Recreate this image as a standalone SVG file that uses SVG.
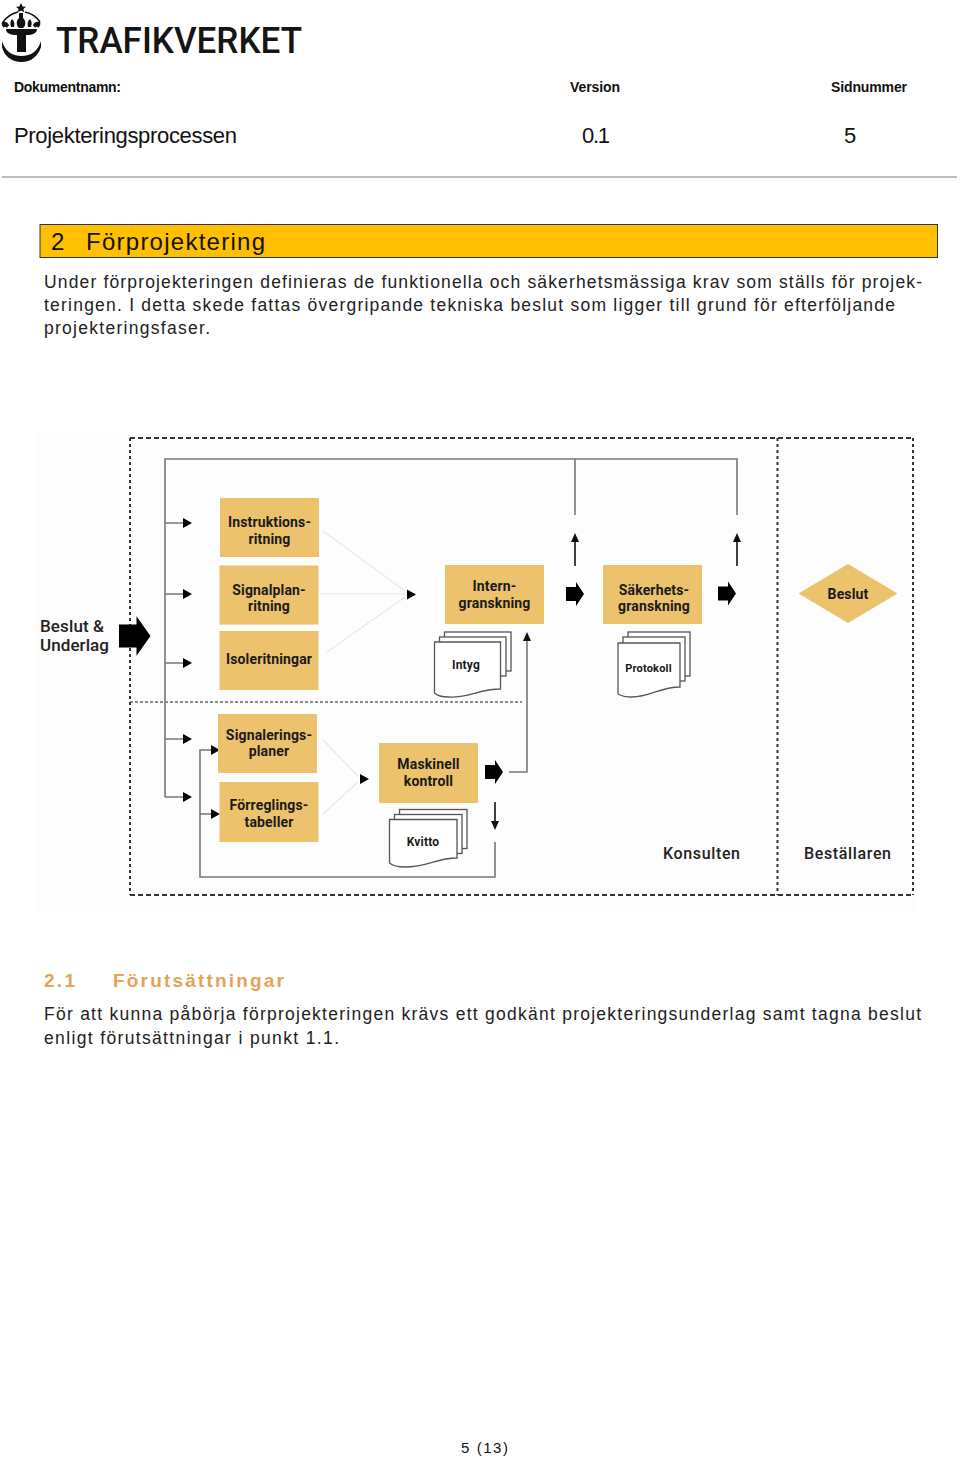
<svg xmlns="http://www.w3.org/2000/svg" width="960" height="1460" viewBox="0 0 960 1460">
<style>
.s{font-family:"Liberation Sans",Arial,sans-serif;fill:#111}
.b{font-size:17.500px;fill:#222}
.h{font-size:14px;font-weight:bold}
.v{font-size:22px}
.n{font-family:Roboto,"Liberation Sans",sans-serif;font-weight:700;font-size:14px;letter-spacing:.15px;fill:#1a1a1a;text-anchor:middle}
.m{font-family:Roboto,"Liberation Sans",sans-serif;font-weight:700;font-size:12px;letter-spacing:.2px;fill:#1a1a1a;text-anchor:middle}
.l{font-family:Roboto,"Liberation Sans",sans-serif;font-weight:500;font-size:17px;fill:#222}
.box{fill:#ecc26c}
.doc{fill:#fff;stroke:#555;stroke-width:1.3}
.ln{fill:none;stroke:#777;stroke-width:1.6}
.lt{fill:none;stroke:#e8e8e8;stroke-width:1.2}
.dk{fill:none;stroke:#111;stroke-width:1.6}
.ds{fill:none;stroke:#333;stroke-width:2;stroke-dasharray:5 3}
.dv{fill:none;stroke:#333;stroke-width:2;stroke-dasharray:3 3}
.dt{fill:none;stroke:#666;stroke-width:1.6;stroke-dasharray:3 2}
.fa{fill:#111}
</style>
<defs>
<path id="big" d="M0-7H10V-12L18 0 10 12V7H0Z"/>
<path id="ah" d="M0-5 9 0 0 5Z"/>
<path id="dc" d="M0 0H66V47C44 47 36 56 14 55 8 55 3 54 0 51Z"/>
</defs>
<rect width="960" height="1460" fill="#fff"/>
<g id="logo">
<path d="M21 3l1.600 3.400 3.400.3-2.600 2.200.8 3.400-3.200-1.800-3.200 1.800.8-3.400-2.600-2.200 3.400-.3z" fill="#111"/>
<path d="M19 13h4v5c3 2 3 8 0 10h-4c-3-2-3-8 0-10z" fill="#111"/>
<path d="M3 22C8 15 14 13 18 12M25 12C30 13 36 16 40 22" fill="none" stroke="#111" stroke-width="1.600"/>
<path d="M2 22c4-1 7 1 7 4-1 0-1 0-2 2-2-2-3-1-3 0 -2-2-3-4-2-6zM12 19c2 2 3 4 2 8h-3c-1-3-1-6 1-8zM30 19c2 2 2 5 1 8h-3c-1-4 0-6 2-8zM40 22c1 2 0 4-2 6 0-1-1-2-3 0-1-2-1-2-2-2 0-3 3-5 7-4z" fill="#111"/>
<path d="M6 29H37C37 33 33 35 26 35V52H17V35C10 35 6 33 6 29Z" fill="#111"/>
<path d="M2 41C5 51 12 56 21.500 56 31 56 38 51 41 41V47C38 56 31 62 21.500 62 12 62 4 56 2 47Z" fill="#111"/>
<text x="56" y="53" font-family="Roboto,'Liberation Sans',sans-serif" font-weight="500" font-size="36.500" fill="#151515" textLength="246" lengthAdjust="spacingAndGlyphs">TRAFIKVERKET</text>
</g>
<g id="header">
<text class="s h" x="14" y="92" textLength="107">Dokumentnamn:</text>
<text class="s h" x="570" y="92" textLength="50">Version</text>
<text class="s h" x="831" y="92" textLength="76">Sidnummer</text>
<text class="s v" x="14" y="143" textLength="223">Projekteringsprocessen</text>
<text class="s v" x="582" y="143" textLength="28">0.1</text>
<text class="s v" x="844" y="143">5</text>
<rect x="2" y="176" width="955" height="2" fill="#bdbdbd"/>
</g>
<g id="section-2">
<rect x="40" y="224.500" width="897.500" height="33" fill="#ffc000" stroke="#333" stroke-width="1"/>
<text class="s" font-size="24" x="51" y="250">2</text>
<text class="s" font-size="24" x="86" y="250" textLength="179" lengthAdjust="spacing">Förprojektering</text>
<text class="s b" x="44" y="288" textLength="878" lengthAdjust="spacing">Under förprojekteringen definieras de funktionella och säkerhetsmässiga krav som ställs för projek-</text>
<text class="s b" x="44" y="311" textLength="851" lengthAdjust="spacing">teringen. I detta skede fattas övergripande tekniska beslut som ligger till grund för efterföljande</text>
<text class="s b" x="44" y="334" textLength="166" lengthAdjust="spacing">projekteringsfaser.</text>
</g>
<rect x="36" y="434" width="880" height="478" fill="#fdfdfd"/>
<g id="connectors">
<path class="ds" d="M130 438H913M130 895H913"/>
<path class="dv" d="M130 438V895M913 438V895M777.500 438V895"/>
<path class="dt" d="M130 702H522"/>
<path class="ln" d="M165 797V459H737V515M575 459V515M165 523H183M165 594H183M165 663H183M165 739H183M165 797H183"/>
<use href="#ah" x="183" y="523"/><use href="#ah" x="183" y="594"/><use href="#ah" x="183" y="663"/><use href="#ah" x="183" y="739"/><use href="#ah" x="183" y="797"/>
<path class="ln" d="M495 842V877H200V750H212M200 814H212M509 772H527V640"/>
<use href="#ah" x="211" y="750"/><use href="#ah" x="211" y="814"/>
<path class="lt" d="M323 531L405 591M320 594H405M327 652L405 597M323 740L358 776M323 814L358 782"/>
<use href="#ah" x="407" y="594.500"/><use href="#ah" x="360" y="779"/>
<use href="#big" x="119" y="636" transform="translate(119 636) scale(1.750 1.650) translate(-119 -636)"/>
<use href="#big" x="566" y="594"/><use href="#big" x="718" y="593.500"/><use href="#big" x="485" y="772"/>
<path class="dk" d="M575 566V540M737 566V540M495 802V824"/>
<path class="fa" d="M575 533l4 9h-8zM737 533l4 9h-8zM495 830l-4-9h8zM527 632l4 9h-8z"/>
</g>
<g id="input-label">
<text class="l" x="40" y="632" textLength="64">Beslut &amp;</text>
<text class="l" x="40" y="651" textLength="69">Underlag</text>
</g>
<g id="instruktionsritning"><rect class="box" x="220" y="498" width="99" height="59"/><text class="n" x="269.500" y="527">Instruktions-</text><text class="n" x="269.500" y="544">ritning</text></g>
<g id="signalplanritning"><rect class="box" x="219.500" y="565.500" width="99" height="59"/><text class="n" x="269" y="595">Signalplan-</text><text class="n" x="269" y="611">ritning</text></g>
<g id="isoleritningar"><rect class="box" x="219.500" y="631" width="99" height="59"/><text class="n" x="269" y="664">Isoleritningar</text></g>
<g id="interngranskning"><rect class="box" x="445" y="565" width="99" height="59"/><text class="n" x="494.500" y="591">Intern-</text><text class="n" x="494.500" y="608">granskning</text></g>
<g id="sakerhetsgranskning"><rect class="box" x="603" y="565" width="99" height="59"/><text class="n" x="654" y="595">Säkerhets-</text><text class="n" x="654" y="611">granskning</text></g>
<g id="beslut"><path class="box" d="M848 564L897.500 593.500 848 623 798.500 593.500Z"/><text class="n" x="848" y="599">Beslut</text></g>
<g id="signaleringsplaner"><rect class="box" x="218" y="714" width="99" height="59"/><text class="n" x="269" y="740">Signalerings-</text><text class="n" x="269" y="756">planer</text></g>
<g id="forreglingstabeller"><rect class="box" x="219.500" y="782" width="99" height="60"/><text class="n" x="269" y="810">Förreglings-</text><text class="n" x="269" y="827">tabeller</text></g>
<g id="maskinell-kontroll"><rect class="box" x="379" y="743" width="99" height="60"/><text class="n" x="428.500" y="769">Maskinell</text><text class="n" x="428.500" y="786">kontroll</text></g>
<g id="intyg">
<rect class="doc" x="444.500" y="632" width="66.500" height="39"/><rect class="doc" x="439.500" y="637" width="66.500" height="39"/>
<use href="#dc" x="434.500" y="642" class="doc"/><text class="m" x="466" y="669">Intyg</text></g>
<g id="protokoll">
<rect class="doc" x="628" y="632" width="62" height="44"/><rect class="doc" x="623" y="637" width="62" height="44"/>
<path class="doc" d="M618 643H680V687C660 687 650 697 632 697 625 697 621 696 618 694Z"/><text class="m" style="font-size:11px" x="648.500" y="672">Protokoll</text></g>
<g id="kvitto">
<rect class="doc" x="399.500" y="809.500" width="67.500" height="39"/><rect class="doc" x="394.500" y="814.500" width="67.500" height="39"/>
<path class="doc" d="M389.500 819.500H457V858C436 858 428 867 405 867 398 867 393 866 389.500 863Z"/><text class="m" x="423" y="846">Kvitto</text></g>
<g id="roles">
<text class="l" x="663" y="859" textLength="77" style="font-size:16px">Konsulten</text>
<text class="l" x="804" y="859" textLength="87" style="font-size:16px">Beställaren</text>
</g>
<g id="section-2-1">
<text class="s" font-size="19" font-weight="bold" style="fill:#e5a35a" x="44" y="987" textLength="31" lengthAdjust="spacing">2.1</text>
<text class="s" font-size="19" font-weight="bold" style="fill:#e5a35a" x="113" y="987" textLength="171" lengthAdjust="spacing">Förutsättningar</text>
<text class="s b" x="44" y="1020" textLength="877" lengthAdjust="spacing">För att kunna påbörja förprojekteringen krävs ett godkänt projekteringsunderlag samt tagna beslut</text>
<text class="s b" x="44" y="1044" textLength="295" lengthAdjust="spacing">enligt förutsättningar i punkt 1.1.</text>
</g>
<text id="page" class="s" font-size="15" fill="#222" x="461" y="1453" textLength="47" lengthAdjust="spacing">5 (13)</text>
</svg>
